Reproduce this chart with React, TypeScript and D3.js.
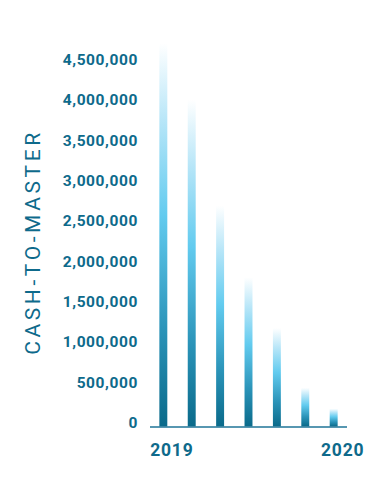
import React from "react";
import * as d3 from "d3";

const periods = ["p1", "p2", "p3", "p4", "p5", "p6", "p7"];
const values = [4750000, 4050000, 2740000, 1850000, 1220000, 480000, 220000];
const yTicks = [0, 500000, 1000000, 1500000, 2000000, 2500000, 3000000, 3500000, 4000000, 4500000];
const xLabels = [
  { period: "p1", label: "2019" },
  { period: "p7", label: "2020" },
];
const yTitle = "CASH-TO-MASTER";

const W = 388;
const H = 483;
const TEXT = "#0e6a8b";

export default function App() {
  const x = d3.scaleBand<string>().domain(periods).range([148, 349]).paddingInner(0.72).paddingOuter(0.4);
  const y = d3.scaleLinear().domain([0, 4500000]).range([426.5, 63.5]);
  const fmt = d3.format(",");
  const bw = x.bandwidth();

  return (
    <svg
      width={W}
      height={H}
      style={{ position: "absolute", left: 0, top: 0, background: "#fff" }}
      fontFamily="Roboto, 'DejaVu Sans', sans-serif"
    >
      <defs>
        <linearGradient id="barGrad" x1="0" y1="1" x2="0" y2="0">
          <stop offset="0" stopColor="#0a6a8a" />
          <stop offset="0.25" stopColor="#2a93b8" />
          <stop offset="0.55" stopColor="#62cbef" />
          <stop offset="0.8" stopColor="#b8e6f8" />
          <stop offset="1" stopColor="#ffffff" />
        </linearGradient>
      </defs>

      {yTicks.map((t) => (
        <text
          key={t}
          x={138}
          y={y(t) - 3.5}
          textAnchor="end"
          dominantBaseline="central"
          fontSize={15.5}
          fontWeight={700}
          letterSpacing={0.6}
          fill={TEXT}
        >
          {fmt(t)}
        </text>
      ))}

      <text
        transform={`translate(40, 242) rotate(-90)`}
        textAnchor="middle"
        fontSize={21}
        letterSpacing={3.6}
        fill={TEXT}
      >
        {yTitle}
      </text>

      {periods.map((p, i) => (
        <rect
          key={p}
          x={x(p)!}
          y={y(values[i])}
          width={bw}
          height={y(0) - y(values[i])}
          fill="url(#barGrad)"
        />
      ))}

      <line x1={150} x2={347} y1={y(0) + 0.5} y2={y(0) + 0.5} stroke="#1f7597" strokeWidth={1.5} />

      {xLabels.map((d) => (
        <text
          key={d.label}
          x={x(d.period)! + bw / 2 + (d.period === "p1" ? 8.5 : 9)}
          y={456}
          textAnchor="middle"
          fontSize={17.5}
          fontWeight={700}
          letterSpacing={0.8}
          fill={TEXT}
        >
          {d.label}
        </text>
      ))}
    </svg>
  );
}
